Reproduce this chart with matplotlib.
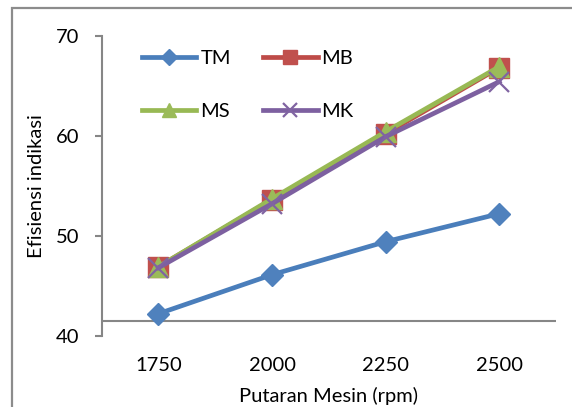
import matplotlib
matplotlib.use("Agg")
import matplotlib.pyplot as plt
from matplotlib.patches import Rectangle

categories = ["1750", "2000", "2250", "2500"]
tm = [42.2, 46.1, 49.4, 52.2]
mb = [46.9, 53.6, 60.2, 66.8]
ms = [46.9, 53.7, 60.4, 66.9]
mk = [46.8, 53.2, 59.9, 65.4]
yticks = [40, 50, 60, 70]
xlabel = "Putaran Mesin (rpm)"
ylabel = "Efisiensi indikasi"

plt.rcParams['font.family'] = ['Lato', 'DejaVu Sans']
FS = 14.5
gray = '#868686'

fig = plt.figure(figsize=(5.72, 4.07), dpi=100)
ax = fig.add_axes([101.7/572, 1-335.7/407, (556-101.7)/572, 300/407])
x = list(range(len(categories)))

h_tm, = ax.plot(x, tm, color='#4A7EBB', lw=3.4, marker='D', ms=11, mfc='#4F81BD', mec='#4F81BD', label='TM', zorder=3)
h_mb, = ax.plot(x, mb, color='#BE4B48', lw=3.4, marker='s', ms=14, mfc='#C0504D', mec='#C0504D', label='MB', zorder=3)
h_ms, = ax.plot(x, ms, color='#98B954', lw=3.4, marker='^', ms=14, mfc='#9BBB59', mec='#9BBB59', label='MS', zorder=4)
h_mk, = ax.plot(x, mk, color='#7D60A0', lw=3.4, marker='x', ms=14, mew=1.6, mfc='#8064A2', mec='#8064A2', label='MK', zorder=5)

ax.set_xlim(-0.5, len(categories) - 0.5)
ax.set_ylim(40, 70)
ax.set_yticks(yticks)
ax.set_xticks(x)
ax.set_xticklabels(categories)
ax.axhline(41.5, color=gray, lw=1.5, zorder=2)

for s in ['top', 'right', 'bottom']:
    ax.spines[s].set_visible(False)
ax.spines['left'].set_color(gray)
ax.spines['left'].set_linewidth(1.5)
ax.tick_params(axis='y', direction='out', length=5, width=1.5, color=gray, pad=11, labelsize=FS)
ax.tick_params(axis='x', length=0, pad=15, labelsize=FS)

ax.set_xlabel(xlabel, fontsize=FS, labelpad=10)
ax.set_ylabel(ylabel, fontsize=FS, labelpad=8)

leg = ax.legend([h_tm, h_ms, h_mb, h_mk], ['TM', 'MS', 'MB', 'MK'],
                ncol=2, loc='upper left', bbox_to_anchor=(142/572, 1-50/407),
                bbox_transform=fig.transFigure, frameon=False, fontsize=FS,
                handlelength=2.7, handletextpad=0.2, columnspacing=1.6,
                labelspacing=1.8, borderpad=0, borderaxespad=0, markerscale=0.7)

fig.patches.append(Rectangle((12/572, -0.1), 1.2, (1-8/407)+0.1, transform=fig.transFigure,
                             fill=False, edgecolor='#8c8c8c', lw=1.6, clip_on=False))

fig.savefig("out.png", dpi=100)
